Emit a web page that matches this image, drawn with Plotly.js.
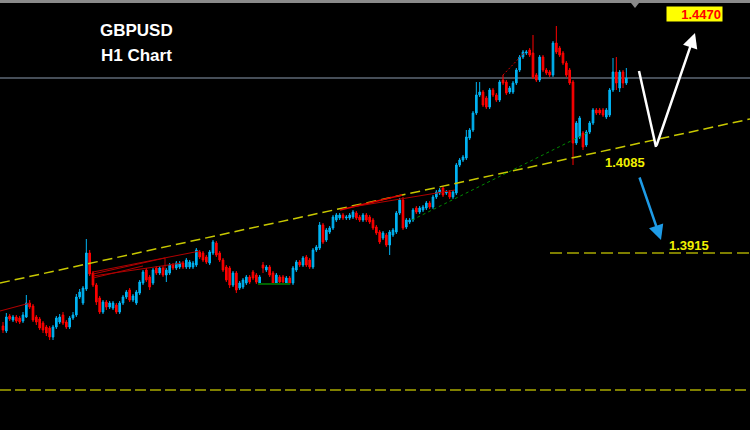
<!DOCTYPE html>
<html><head><meta charset="utf-8">
<script src="https://cdn.plot.ly/plotly-3.0.1.min.js"></script>
<style>html,body{margin:0;padding:0;background:#000;}#chart{width:750px;height:430px;}</style>
</head><body><div id="chart"></div>
<script>
// GBPUSD H1 candles (prices)
const open = [1.3769,1.3759,1.3789,1.3781,1.3787,1.3785,1.3779,1.3787,1.3815,1.3809,
1.3787,1.3783,1.3775,1.3767,1.3765,1.3747,1.3767,1.3777,1.3791,1.3777,
1.3767,1.3785,1.3791,1.3827,1.3815,1.3843,1.3915,1.3875,1.3851,1.3825,
1.3797,1.3817,1.3807,1.3805,1.3811,1.3797,1.3815,1.3827,1.3841,1.3821,
1.3815,1.3835,1.3855,1.3881,1.3867,1.3855,1.3885,1.3875,1.3885,1.3871,
1.3875,1.3891,1.3885,1.3887,1.3895,1.3887,1.3887,1.3887,1.3891,1.3917,
1.3915,1.3907,1.3895,1.3915,1.3935,1.3915,1.3901,1.3887,1.3885,1.3851,
1.3875,1.3845,1.3847,1.3855,1.3867,1.3877,1.3871,1.3855,1.3891,1.3881,
1.3887,1.3875,1.3855,1.3867,1.3867,1.3855,1.3865,1.3855,1.3881,1.3897,
1.3891,1.3907,1.3901,1.3887,1.3921,1.3925,1.3971,1.3941,1.3957,1.3965,
1.3981,1.3985,1.3991,1.3985,1.3985,1.3987,1.3995,1.3987,1.3981,1.3991,
1.3987,1.3981,1.3967,1.3957,1.3945,1.3951,1.3931,1.3951,1.3957,1.3995,
1.4021,1.3967,1.3977,1.3981,1.4005,1.3997,1.4001,1.4005,1.4015,1.4007,
1.4027,1.4035,1.4045,1.4035,1.4037,1.4027,1.4035,1.4091,1.4101,1.4105,
1.4145,1.4161,1.4195,1.4231,1.4237,1.4225,1.4207,1.4241,1.4231,1.4221,
1.4261,1.4257,1.4237,1.4237,1.4255,1.4281,1.4307,1.4315,1.4321,1.4315,
1.4271,1.4261,1.4307,1.4281,1.4277,1.4271,1.4335,1.4325,1.4315,1.4295,
1.4281,1.4257,1.4135,1.4147,1.4155,1.4131,1.4157,1.4175,1.4201,1.4201,
1.4201,1.4187,1.4191,1.4241,1.4277,1.4245,1.4277,1.4255];
const high = [1.3777,1.3795,1.3793,1.3791,1.3791,1.3789,1.3797,1.3831,1.3821,1.3813,
1.3791,1.3787,1.3779,1.3771,1.3769,1.3771,1.3789,1.3793,1.3797,1.3781,
1.3789,1.3797,1.3833,1.3843,1.3849,1.3943,1.3921,1.3879,1.3855,1.3829,
1.3821,1.3821,1.3819,1.3819,1.3815,1.3819,1.3831,1.3841,1.3845,1.3833,
1.3841,1.3861,1.3881,1.3885,1.3871,1.3885,1.3889,1.3889,1.3889,1.3885,
1.3895,1.3895,1.3899,1.3899,1.3899,1.3905,1.3901,1.3899,1.3925,1.3921,
1.3919,1.3911,1.3921,1.3941,1.3939,1.3919,1.3905,1.3891,1.3889,1.3879,
1.3879,1.3859,1.3865,1.3871,1.3871,1.3881,1.3875,1.3871,1.3897,1.3891,
1.3891,1.3879,1.3875,1.3871,1.3871,1.3869,1.3869,1.3889,1.3901,1.3901,
1.3909,1.3911,1.3905,1.3925,1.3931,1.3977,1.3975,1.3965,1.3969,1.3991,
1.3995,1.3995,1.3995,1.3991,1.3995,1.4001,1.3999,1.3991,1.3995,1.3995,
1.3991,1.3985,1.3971,1.3961,1.3959,1.3955,1.3961,1.3965,1.3999,1.4025,
1.4027,1.3985,1.3985,1.4005,1.4009,1.4009,1.4011,1.4019,1.4019,1.4031,
1.4041,1.4045,1.4049,1.4041,1.4041,1.4041,1.4095,1.4105,1.4111,1.4161,
1.4165,1.4199,1.4257,1.4257,1.4241,1.4229,1.4245,1.4245,1.4235,1.4261,
1.4271,1.4261,1.4249,1.4259,1.4285,1.4311,1.4321,1.4321,1.4325,1.4351,
1.4275,1.4311,1.4311,1.4285,1.4281,1.4339,1.4369,1.4329,1.4319,1.4299,
1.4285,1.4261,1.4179,1.4189,1.4159,1.4161,1.4179,1.4205,1.4205,1.4205,
1.4205,1.4205,1.4245,1.4305,1.4307,1.4281,1.4281,1.4285];
const low = [1.3755,1.3755,1.3779,1.3777,1.3775,1.3773,1.3775,1.3785,1.3803,1.3777,
1.3771,1.3761,1.3755,1.3749,1.3741,1.3741,1.3763,1.3773,1.3771,1.3763,
1.3763,1.3781,1.3787,1.3823,1.3811,1.3839,1.3869,1.3847,1.3811,1.3793,
1.3793,1.3801,1.3803,1.3801,1.3793,1.3793,1.3811,1.3823,1.3817,1.3817,
1.3811,1.3831,1.3851,1.3857,1.3841,1.3851,1.3871,1.3871,1.3867,1.3857,
1.3871,1.3881,1.3881,1.3883,1.3883,1.3883,1.3883,1.3883,1.3887,1.3903,
1.3897,1.3893,1.3891,1.3911,1.3907,1.3897,1.3877,1.3857,1.3845,1.3847,
1.3835,1.3841,1.3843,1.3851,1.3853,1.3861,1.3853,1.3851,1.3875,1.3877,
1.3867,1.3851,1.3851,1.3853,1.3853,1.3851,1.3851,1.3851,1.3877,1.3887,
1.3887,1.3887,1.3883,1.3883,1.3917,1.3921,1.3933,1.3937,1.3953,1.3961,
1.3977,1.3981,1.3981,1.3981,1.3981,1.3983,1.3981,1.3977,1.3977,1.3977,
1.3973,1.3961,1.3951,1.3933,1.3941,1.3927,1.3911,1.3947,1.3953,1.3991,
1.3961,1.3963,1.3973,1.3977,1.3993,1.3993,1.3997,1.4001,1.4003,1.4003,
1.4023,1.4031,1.4027,1.4031,1.4023,1.4023,1.4031,1.4087,1.4097,1.4101,
1.4141,1.4157,1.4191,1.4227,1.4207,1.4203,1.4203,1.4227,1.4217,1.4217,
1.4251,1.4231,1.4233,1.4233,1.4251,1.4277,1.4303,1.4311,1.4307,1.4263,
1.4257,1.4257,1.4277,1.4271,1.4267,1.4267,1.4313,1.4307,1.4291,1.4267,
1.4251,1.4091,1.4131,1.4143,1.4121,1.4127,1.4153,1.4171,1.4191,1.4191,
1.4187,1.4183,1.4187,1.4237,1.4241,1.4237,1.4245,1.4251];
const close = [1.3761,1.3787,1.3783,1.3787,1.3779,1.3777,1.3791,1.3815,1.3807,1.3781,
1.3777,1.3765,1.3761,1.3755,1.3747,1.3767,1.3785,1.3787,1.3775,1.3767,
1.3785,1.3791,1.3827,1.3837,1.3845,1.3915,1.3873,1.3851,1.3817,1.3797,
1.3817,1.3807,1.3815,1.3815,1.3797,1.3815,1.3827,1.3837,1.3821,1.3829,
1.3837,1.3857,1.3877,1.3861,1.3847,1.3881,1.3875,1.3885,1.3871,1.3881,
1.3891,1.3885,1.3895,1.3895,1.3887,1.3901,1.3897,1.3895,1.3921,1.3907,
1.3901,1.3897,1.3917,1.3937,1.3911,1.3901,1.3881,1.3861,1.3851,1.3875,
1.3841,1.3855,1.3861,1.3867,1.3857,1.3865,1.3857,1.3867,1.3885,1.3887,
1.3871,1.3855,1.3871,1.3857,1.3857,1.3865,1.3855,1.3885,1.3897,1.3891,
1.3905,1.3891,1.3887,1.3921,1.3927,1.3971,1.3937,1.3961,1.3965,1.3987,
1.3991,1.3991,1.3985,1.3987,1.3991,1.3997,1.3985,1.3981,1.3991,1.3981,
1.3977,1.3965,1.3955,1.3937,1.3955,1.3931,1.3957,1.3961,1.3995,1.4021,
1.3965,1.3981,1.3981,1.4001,1.3997,1.4005,1.4007,1.4015,1.4007,1.4027,
1.4037,1.4041,1.4031,1.4037,1.4027,1.4037,1.4091,1.4101,1.4107,1.4147,
1.4161,1.4195,1.4231,1.4237,1.4211,1.4207,1.4241,1.4231,1.4221,1.4257,
1.4255,1.4235,1.4245,1.4255,1.4281,1.4307,1.4317,1.4317,1.4311,1.4267,
1.4261,1.4307,1.4281,1.4275,1.4271,1.4335,1.4317,1.4311,1.4295,1.4271,
1.4255,1.4135,1.4175,1.4185,1.4127,1.4157,1.4175,1.4201,1.4195,1.4195,
1.4191,1.4201,1.4241,1.4277,1.4255,1.4277,1.4255,1.4265];

// price levels / labels
const levelResistance = 1.4265;   // grey horizontal line
const levelTarget = 1.3915;       // short dashed level
const levelBottom = 1.3641;       // long dashed level
const labelUp = "1.4470";
const labelMid = "1.4085";
const labelDown = "1.3915";
const titleLines = ["GBPUSD", "H1 Chart"];

const bars = open.map((_, i) => i);

// helpers for overlay drawings (pixel -> paper)
const W = 750, H = 430;
const px = x => x / W;
const py = y => 1 - y / H;
function seg(x0, y0, x1, y1, color, width, dash) {
  return {type: 'line', xref: 'paper', yref: 'paper', x0: px(x0), y0: py(y0), x1: px(x1), y1: py(y1),
    line: {color: color, width: width, dash: dash || 'solid'}, layer: 'above'};
}
function label(x, y, text, size, color, extra) {
  return Object.assign({xref: 'paper', yref: 'paper', x: px(x), y: py(y), xanchor: 'center', yanchor: 'middle',
    text: '<b>' + text + '</b>', showarrow: false,
    font: {family: 'Liberation Sans, Arial', size: size, color: color}}, extra || {});
}

const trace = {
  type: 'candlestick', x: bars, open: open, high: high, low: low, close: close,
  increasing: {line: {color: '#00B4F4', width: 1}, fillcolor: '#00B4F4'},
  decreasing: {line: {color: '#FF0000', width: 1}, fillcolor: '#FF0000'},
  whiskerwidth: 0, hoverinfo: 'none', showlegend: false
};

const shapes = [
  // top frame
  seg(0, 1.5, 750, 1.5, '#8a8a8a', 3),
  {type: 'path', xref: 'paper', yref: 'paper', path: `M ${px(631)} ${py(3)} L ${px(639)} ${py(3)} L ${px(635)} ${py(8)} Z`, fillcolor: '#8a8a8a', line: {width: 0}},
  // levels
  {type: 'line', xref: 'paper', yref: 'y', x0: 0, x1: 1, y0: levelResistance, y1: levelResistance, line: {color: '#8C9CB0', width: 1}, layer: 'below'},
  {type: 'line', xref: 'paper', yref: 'y', x0: 0, x1: 1, y0: levelBottom, y1: levelBottom, line: {color: '#7F7F00', width: 2, dash: '11px,4px'}},
  {type: 'line', xref: 'paper', yref: 'y', x0: px(550), x1: 1, y0: levelTarget, y1: levelTarget, line: {color: '#A8A800', width: 1.5, dash: '12px,5px'}},
  // yellow trend line
  seg(0, 283, 750, 119, '#C8C800', 1.5, '10px,5px'),
  // green lines
  seg(412, 220, 587, 133, '#008A00', 1, '3px,3px'),
  seg(258, 284, 290, 284, '#006400', 2),
  // red lines
  seg(0, 311, 30, 303, '#B00000', 1.2),
  seg(93, 272, 200, 251, '#B00000', 1),
  seg(93, 274, 165, 258, '#B00000', 1),
  seg(165, 258, 165, 270, '#B00000', 1),
  seg(93, 276, 182, 263, '#B00000', 1),
  seg(93, 278, 143, 266, '#B00000', 1),
  seg(340, 210, 402, 195, '#E00000', 1.5),
  seg(352, 207, 455, 190, '#B00000', 1),
  seg(503, 75, 525, 52, '#D00000', 1, '2px,2px'),
  // white V arrow first leg
  seg(639, 71, 656, 147, '#FFFFFF', 2.5)
];

const annotations = [
  label(136, 30, titleLines[0], 17, '#FFFFFF'),
  label(136, 55, titleLines[1], 17, '#FFFFFF'),
  label(625, 163, labelMid, 13, '#F0F000'),
  label(689, 245, labelDown, 13, '#F0F000'),
  label(694.5, 14, labelUp, 13, '#FF0000', {bgcolor: '#FFFF00', width: 53, height: 12, borderpad: 1, align: 'right'}),
  // white arrow second leg
  {xref: 'paper', yref: 'paper', x: px(695), y: py(33), ax: -39, ay: 114, text: '', showarrow: true,
    arrowhead: 2, arrowsize: 1.2, arrowwidth: 2.5, arrowcolor: '#FFFFFF', standoff: 0},
  // blue arrow
  {xref: 'paper', yref: 'paper', x: px(661), y: py(240), ax: -22, ay: -64, text: '', showarrow: true,
    arrowhead: 2, arrowsize: 1.2, arrowwidth: 2.5, arrowcolor: '#1E9BE6', standoff: 0}
];

const layout = {
  width: W, height: H, margin: {l: 0, r: 0, t: 0, b: 0},
  paper_bgcolor: '#000000', plot_bgcolor: '#000000', showlegend: false, hovermode: false,
  xaxis: {range: [-0.9, 224.1], visible: false, rangeslider: {visible: false}, fixedrange: true},
  yaxis: {range: [1.3561, 1.4421], visible: false, fixedrange: true},
  shapes: shapes, annotations: annotations
};

Plotly.newPlot('chart', [trace], layout, {staticPlot: true, displayModeBar: false});
</script>
</body></html>
